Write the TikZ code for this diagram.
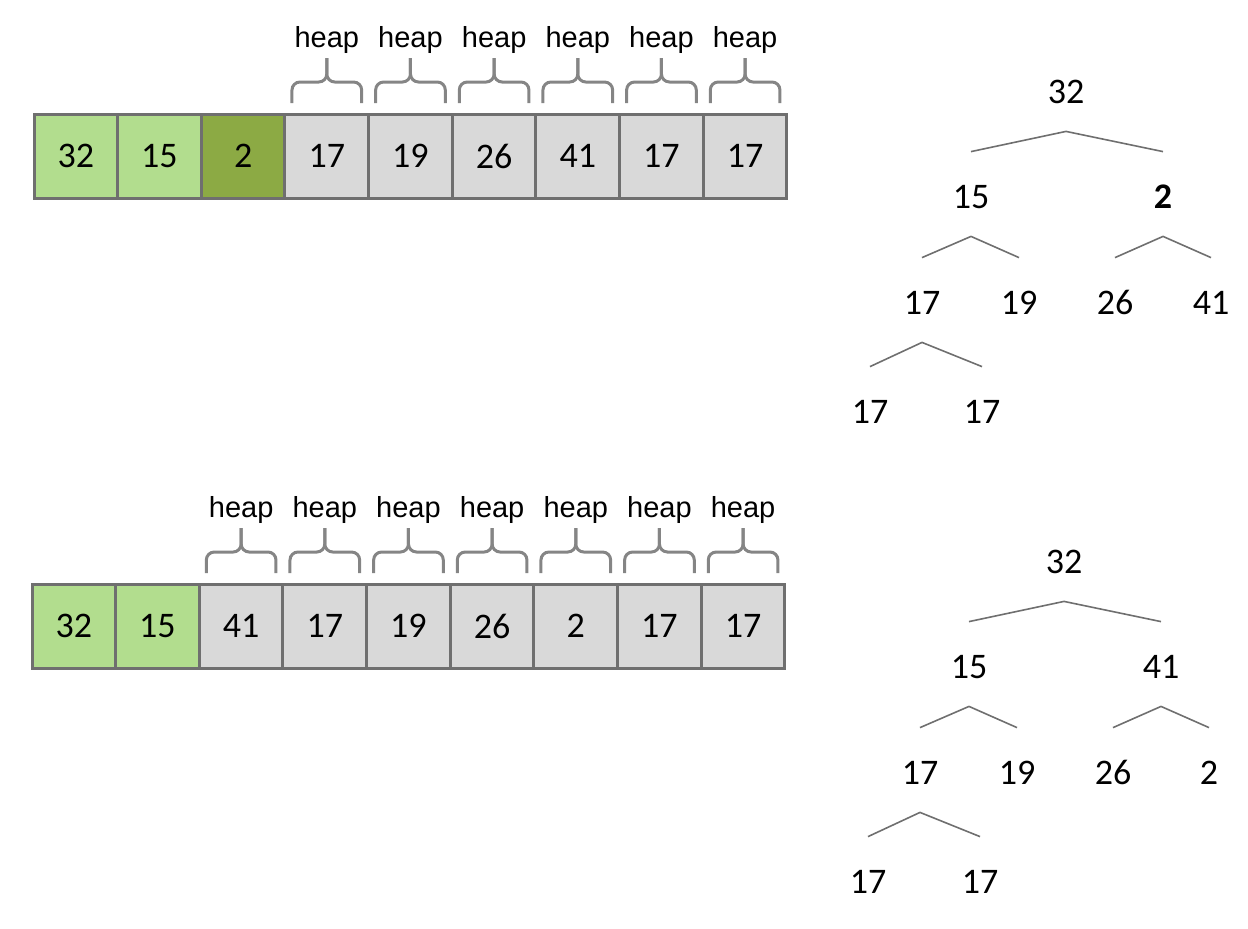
\documentclass[tikz,border=0pt]{standalone}
\usepackage{fontspec}
\setmainfont{Carlito}
\newfontfamily\heapfont{Liberation Sans}
\usetikzlibrary{positioning}
\definecolor{lightgreen}{HTML}{B2DD8E}
\definecolor{darkgreen}{HTML}{8CAA44}
\definecolor{cellgray}{HTML}{D9D9D9}
\definecolor{linegray}{HTML}{6F6F6F}
\tikzset{
  cell/.style={draw=linegray, line width=1.5pt, fill=cellgray, minimum width=41.83pt, minimum height=42pt, inner sep=0pt, outer sep=0pt, font=\fontsize{18}{20}\selectfont},
  sorted/.style={fill=lightgreen},
  sifting/.style={fill=darkgreen},
  heapbrace/.style={draw=linegray!85, line width=1.5pt, rounded corners=4pt},
  heaplabel/.style={anchor=base, inner sep=0pt, font=\heapfont\fontsize{14.5}{16}\selectfont},
  treekey/.style={inner sep=0pt, text height=12pt, text depth=0pt, font=\fontsize{18}{20}\selectfont},
  treeline/.style={draw=linegray, line width=0.8pt},
}

\begin{document}
\begin{tikzpicture}[x=0.5pt, y=-0.5pt]
\useasboundingbox (0,0) rectangle (1248,928);

% top array
\node[cell, sorted, anchor=north west] (A1) at (34,114) {32};
\node[cell, sorted, right=0pt of A1] (A2) {15};
\node[cell, sifting, right=0pt of A2] (A3) {2};
\node[cell, right=0pt of A3] (A4) {17};
\node[cell, right=0pt of A4] (A5) {19};
\node[cell, right=0pt of A5] (A6) {26};
\node[cell, right=0pt of A6] (A7) {41};
\node[cell, right=0pt of A7] (A8) {17};
\node[cell, right=0pt of A8] (A9) {17};
\foreach \c in {A4,A5,A6,A7,A8,A9} {
  \draw[heapbrace] ([xshift=3.5pt,yshift=5.5pt]\c.north west) |- ([yshift=16pt]\c.north) -- ([yshift=28pt]\c.north);
  \draw[heapbrace] ([xshift=-3.5pt,yshift=5.5pt]\c.north east) |- ([yshift=16pt]\c.north) -- ([yshift=28pt]\c.north);
  \node[heaplabel] (H\c) at ([yshift=33.5pt]\c.north) {heap};
}

% top tree
\node[treekey] (TA1) at (1066,91) {32};
\node[treekey] (TA2) at (971,196) {15};
\node[treekey] (TA3) at (1163,196) {\bfseries 2};
\node[treekey] (TA4) at (922,302) {17};
\node[treekey] (TA5) at (1019,302) {19};
\node[treekey] (TA6) at (1115,302) {26};
\node[treekey] (TA7) at (1211,302) {41};
\node[treekey] (TA8) at (870,411) {17};
\node[treekey] (TA9) at (982,411) {17};
\draw[treeline] ([yshift=16pt]TA2.north) -- ([yshift=-14pt]TA1.south) -- ([yshift=16pt]TA3.north);
\draw[treeline] ([yshift=16pt]TA4.north) -- ([yshift=-14pt]TA2.south) -- ([yshift=16pt]TA5.north);
\draw[treeline] ([yshift=16pt]TA6.north) -- ([yshift=-14pt]TA3.south) -- ([yshift=16pt]TA7.north);
\draw[treeline] ([yshift=16pt]TA8.north) -- ([yshift=-14pt]TA4.south) -- ([yshift=16pt]TA9.north);

\begin{scope}[shift={(-2,470)}]
% bottom array
\node[cell, sorted, anchor=north west] (B1) at (34,114) {32};
\node[cell, sorted, right=0pt of B1] (B2) {15};
\node[cell, right=0pt of B2] (B3) {41};
\node[cell, right=0pt of B3] (B4) {17};
\node[cell, right=0pt of B4] (B5) {19};
\node[cell, right=0pt of B5] (B6) {26};
\node[cell, right=0pt of B6] (B7) {2};
\node[cell, right=0pt of B7] (B8) {17};
\node[cell, right=0pt of B8] (B9) {17};
\foreach \c in {B3,B4,B5,B6,B7,B8,B9} {
  \draw[heapbrace] ([xshift=3.5pt,yshift=5.5pt]\c.north west) |- ([yshift=16pt]\c.north) -- ([yshift=28pt]\c.north);
  \draw[heapbrace] ([xshift=-3.5pt,yshift=5.5pt]\c.north east) |- ([yshift=16pt]\c.north) -- ([yshift=28pt]\c.north);
  \node[heaplabel] (H\c) at ([yshift=33.5pt]\c.north) {heap};
}

% bottom tree
\node[treekey] (TB1) at (1066,91) {32};
\node[treekey] (TB2) at (971,196) {15};
\node[treekey] (TB3) at (1163,196) {41};
\node[treekey] (TB4) at (922,302) {17};
\node[treekey] (TB5) at (1019,302) {19};
\node[treekey] (TB6) at (1115,302) {26};
\node[treekey] (TB7) at (1211,302) {2};
\node[treekey] (TB8) at (870,411) {17};
\node[treekey] (TB9) at (982,411) {17};
\draw[treeline] ([yshift=16pt]TB2.north) -- ([yshift=-14pt]TB1.south) -- ([yshift=16pt]TB3.north);
\draw[treeline] ([yshift=16pt]TB4.north) -- ([yshift=-14pt]TB2.south) -- ([yshift=16pt]TB5.north);
\draw[treeline] ([yshift=16pt]TB6.north) -- ([yshift=-14pt]TB3.south) -- ([yshift=16pt]TB7.north);
\draw[treeline] ([yshift=16pt]TB8.north) -- ([yshift=-14pt]TB4.south) -- ([yshift=16pt]TB9.north);
\end{scope}
\end{tikzpicture}
\end{document}
